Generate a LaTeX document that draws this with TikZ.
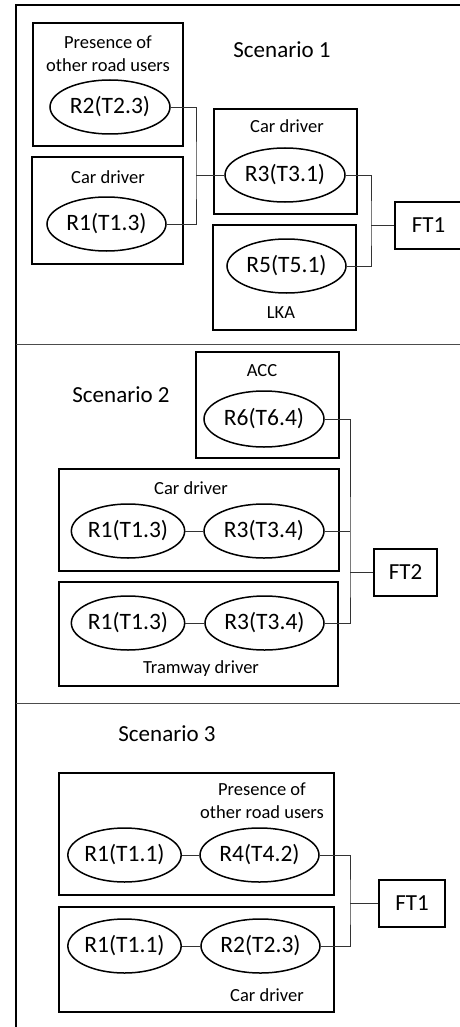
\documentclass[tikz,border=0pt]{standalone}
\usepackage{fontspec}
\setmainfont{Carlito}
\usepackage{tikz}
\usetikzlibrary{shapes.geometric,positioning,calc}

\begin{document}
\begin{tikzpicture}[
  x=1pt, y=-1pt,
  grp/.style={draw, line width=1.6pt, inner sep=0pt},
  role/.style={draw, ellipse, line width=1.5pt, inner sep=0pt,
               minimum width=120pt, minimum height=54pt,
               font=\fontsize{23.5}{27}\selectfont},
  grplabel/.style={font=\fontsize{18.5}{23}\selectfont, align=center, inner sep=0pt},
  scentitle/.style={font=\fontsize{23}{27}\selectfont, inner sep=0pt},
  ftbox/.style={draw, line width=1.5pt, minimum height=47pt,
                font=\fontsize{23}{27}\selectfont, inner sep=0pt},
  link/.style={line width=0.8pt, draw=black!80},
  frameline/.style={line width=1.2pt},
  sepline/.style={line width=0.9pt, draw=black!70}
]
\useasboundingbox (0,0) rectangle (460,1027);

% Frame and separators
\draw[frameline] (16,1027) -- (16,5) -- (460,5);
\draw[sepline] (16,344) -- (460,344);
\draw[sepline] (16,703) -- (460,703);

% Scenario 1
\node[scentitle] (s1) at (282,50) {Scenario 1};
\node[grp, minimum width=150pt, minimum height=123pt] (b1p) at (108,84.5) {};
\node[grplabel] (b1pl) at (108,54) {Presence of\\other road users};
\node[role] (r2a) at (110,107) {R2(T2.3)};
\node[grp, minimum width=151pt, minimum height=107pt] (b1c) at (107.5,210.5) {};
\node[grplabel] (b1cl) at (108,177) {Car driver};
\node[role, minimum width=119pt] (r1a) at (106.5,224) {R1(T1.3)};
\node[grp, minimum width=143pt, minimum height=105pt] (b1d) at (285.5,161.5) {};
\node[grplabel] (b1dl) at (287,126) {Car driver};
\node[role] (r3a) at (285,175) {R3(T3.1)};
\node[grp, minimum width=143pt, minimum height=105pt] (b1l) at (284.5,277.5) {};
\node[grplabel] (b1ll) at (281,313) {LKA};
\node[role, minimum width=119pt] (r5a) at (286.5,266) {R5(T5.1)};
\node[ftbox, minimum width=67pt] (ft1a) at (428.5,225.5) {FT1};

\coordinate (j1a) at (196,175);
\coordinate (j1b) at (371,225.5);
\draw[link] (r2a.east) -| (j1a) |- (r1a.east);
\draw[link] (j1a) -- (r3a.west);
\draw[link] (r3a.east) -| (j1b) |- (r5a.east);
\draw[link] (j1b) -- (ft1a.west);

% Scenario 2
\node[scentitle] (s2) at (121,395) {Scenario 2};
\node[grp, minimum width=143pt, minimum height=106pt] (b2a) at (267.5,405) {};
\node[grplabel] (b2al) at (262,371) {ACC};
\node[role, minimum height=56pt] (r6b) at (264,419) {R6(T6.4)};
\node[grp, minimum width=280pt, minimum height=102pt] (b2c) at (199,520) {};
\node[grplabel] (b2cl) at (191,488) {Car driver};
\node[role, minimum width=112pt] (r1b) at (128,531) {R1(T1.3)};
\node[role] (r3b) at (264,531) {R3(T3.4)};
\node[grp, minimum width=279pt, minimum height=104pt] (b2t) at (198.5,634) {};
\node[grplabel] (b2tl) at (201,669) {Tramway driver};
\node[role, minimum width=112pt] (r1c) at (128,623) {R1(T1.3)};
\node[role, minimum width=119pt] (r3c) at (264.5,623) {R3(T3.4)};
\node[ftbox, minimum width=63pt] (ft2) at (405.5,572.5) {FT2};

\coordinate (j2) at (350,572.5);
\draw[link] (r1b) -- (r3b);
\draw[link] (r1c) -- (r3c);
\draw[link] (r6b.east) -| (j2) |- (r3c.east);
\draw[link] (r3b.east) -- (r3b.east -| j2);
\draw[link] (j2) -- (ft2.west);

% Scenario 3
\node[scentitle] (s3) at (167,734) {Scenario 3};
\node[grp, minimum width=275pt, minimum height=122pt] (b3p) at (196.5,834) {};
\node[grplabel] (b3pl) at (262,800.5) {Presence of\\other road users};
\node[role, minimum width=113pt] (r1d) at (124.5,855) {R1(T1.1)};
\node[role, minimum width=119pt] (r4d) at (259.5,855) {R4(T4.2)};
\node[grp, minimum width=275pt, minimum height=105pt] (b3c) at (196.5,959.5) {};
\node[grplabel] (b3cl) at (267,995) {Car driver};
\node[role, minimum width=113pt] (r1e) at (124.5,946) {R1(T1.1)};
\node[role, minimum width=119pt] (r2e) at (260.5,946) {R2(T2.3)};
\node[ftbox, minimum width=66pt] (ft1b) at (412,903.5) {FT1};

\coordinate (j3) at (350,903.5);
\draw[link] (r1d) -- (r4d);
\draw[link] (r1e) -- (r2e);
\draw[link] (r4d.east) -| (j3) |- (r2e.east);
\draw[link] (j3) -- (ft1b.west);

\end{tikzpicture}
\end{document}
